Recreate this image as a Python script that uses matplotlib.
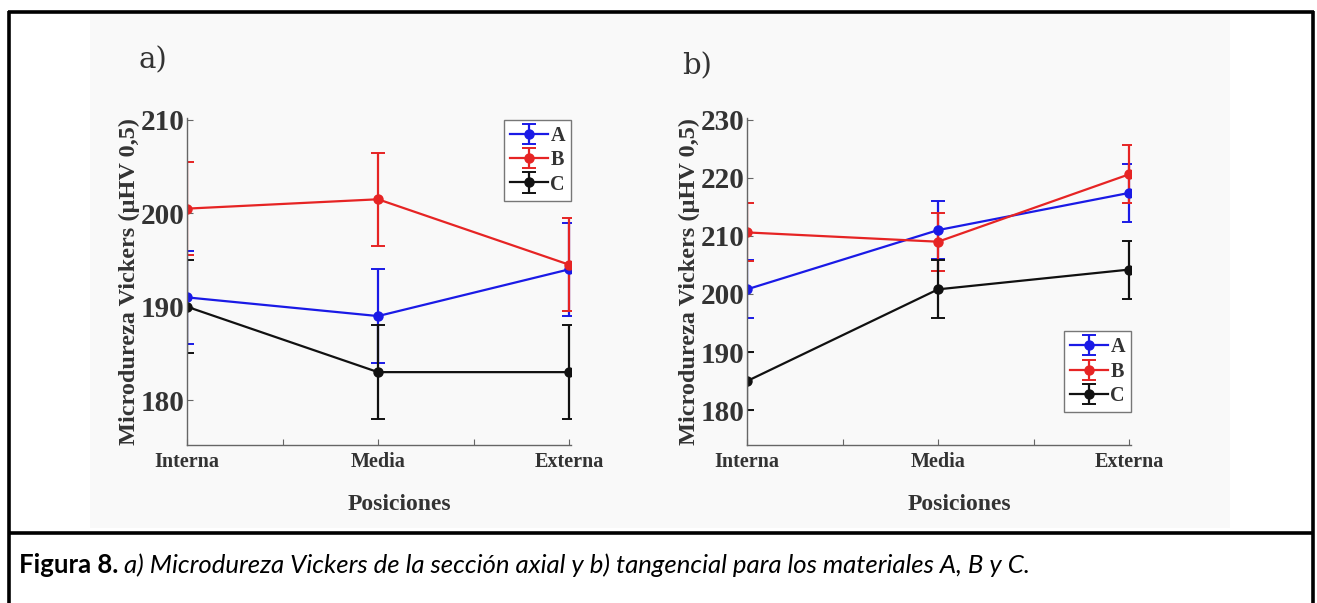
import matplotlib
matplotlib.use("Agg")
import matplotlib.pyplot as plt
from matplotlib.patches import Rectangle
from matplotlib.lines import Line2D

# ---- data ----
positions = ["Interna", "Media", "Externa"]
x_pos = [1, 2, 3]
series_names = ["A", "B", "C"]
colors = ["#1a1ae6", "#e62424", "#111111"]

# a) axial section
axial_A = [191.0, 189.0, 194.0]
axial_B = [200.5, 201.5, 194.5]
axial_C = [190.0, 183.0, 183.0]
axial_err_A = [5, 5, 5]
axial_err_B = [5, 5, 5]
axial_err_C = [5, 5, 5]

# b) tangential section
tang_A = [200.8, 211.0, 217.4]
tang_B = [210.6, 209.0, 220.6]
tang_C = [185.0, 200.8, 204.2]
tang_err_A = [5, 5, 5]
tang_err_B = [5, 5, 5]
tang_err_C = [5, 5, 5]

axial_yticks = [180, 190, 200, 210]
tang_yticks = [180, 190, 200, 210, 220, 230]

ylabel = "Microdureza Vickers (\u03bcHV 0,5)"
xlabel = "Posiciones"
caption_bold = "Figura 8."
caption_rest = " a) Microdureza Vickers de la secci\u00f3n axial y b) tangencial para los materiales A, B y C."

W, H = 1317, 603
fig = plt.figure(figsize=(W / 100, H / 100), dpi=100)
fig.patch.set_facecolor("white")

def px_box(x0, y0, x1, y1):
    return [x0 / W, 1 - y1 / H, (x1 - x0) / W, (y1 - y0) / H]

# faint backdrop of the chart area
fig.patches.append(Rectangle((90 / W, 1 - 528 / H), (1230 - 90) / W, (528 - 14) / H,
                             transform=fig.transFigure, facecolor="#f9f9f9",
                             edgecolor="none", zorder=-5))

serif = "Liberation Serif"

def draw_panel(rect, series, errs, ylim, yticks, legend_loc, legend_anchor):
    ax = fig.add_axes(rect)
    ax.set_facecolor("none")
    for name, vals, err, col in zip(series_names, series, errs, colors):
        ax.errorbar(x_pos, vals, yerr=err, color=col, ecolor=col, lw=1.6,
                    elinewidth=1.6, capsize=5, capthick=1.4, marker="o",
                    ms=6.5, label=name)
    ax.set_xlim(1, 3.01)
    ax.set_ylim(*ylim)
    ax.set_xticks([1, 1.5, 2, 2.5, 3])
    ax.set_xticklabels([positions[0], "", positions[1], "", positions[2]])
    ax.set_yticks(yticks)
    for s in ["top", "right"]:
        ax.spines[s].set_visible(False)
    for s in ["left", "bottom"]:
        ax.spines[s].set_color("#666666")
        ax.spines[s].set_linewidth(1.0)
    ax.tick_params(direction="in", length=4, width=0.8, color="#666666")
    ax.tick_params(axis="x", pad=5)
    ax.tick_params(axis="y", pad=2)
    for lab in ax.get_xticklabels():
        lab.set_fontfamily(serif)
        lab.set_fontweight("bold")
        lab.set_fontsize(14.5)
        lab.set_color("#333333")
    for lab in ax.get_yticklabels():
        lab.set_fontfamily(serif)
        lab.set_fontweight("bold")
        lab.set_fontsize(21)
        lab.set_color("#333333")
    ax.set_ylabel(ylabel, fontfamily=serif, fontweight="bold", fontsize=17.5,
                  color="#333333", labelpad=0)
    ax.set_xlabel(xlabel, fontfamily=serif, fontweight="bold", fontsize=17,
                  color="#333333", va="center")
    ax.xaxis.set_label_coords(212 / 384, -60 / 327)
    leg = ax.legend(loc=legend_loc, bbox_to_anchor=legend_anchor, borderaxespad=0,
                    fancybox=False, framealpha=1, edgecolor="#777777",
                    prop={"family": serif, "weight": "bold", "size": 14.5},
                    handlelength=1.9, handletextpad=0.1, labelspacing=0.22,
                    borderpad=0.3)
    leg.get_frame().set_linewidth(1.0)
    for t in leg.get_texts():
        t.set_color("#333333")
    return ax

ax1 = draw_panel(px_box(187, 118, 571, 445),
                 [axial_A, axial_B, axial_C],
                 [axial_err_A, axial_err_B, axial_err_C],
                 (175.2, 210.2), axial_yticks, "upper right", (1.0, 0.995))
ax2 = draw_panel(px_box(747, 118, 1131, 445),
                 [tang_A, tang_B, tang_C],
                 [tang_err_A, tang_err_B, tang_err_C],
                 (174.0, 230.3), tang_yticks, "lower right", (1.0, 0.10))

# panel letters
fig.text(139 / W, 1 - 60 / H, "a)", fontfamily="DejaVu Serif", fontsize=21,
         color="#333333", va="center", ha="left")
fig.text(682 / W, 1 - 66 / H, "b)", fontfamily="DejaVu Serif", fontsize=21,
         color="#333333", va="center", ha="left")

# frame around figure and caption
frame_kw = dict(transform=fig.transFigure, color="black", lw=2.6, solid_capstyle="butt")
fig.lines.append(Line2D([9 / W, 9 / W], [0, 1 - 11 / H], **frame_kw))
fig.lines.append(Line2D([1313 / W, 1313 / W], [0, 1 - 11 / H], **frame_kw))
fig.lines.append(Line2D([8 / W, 1314 / W], [1 - 12 / H, 1 - 12 / H], **frame_kw))
fig.lines.append(Line2D([8 / W, 1314 / W], [1 - 533 / H, 1 - 533 / H], **frame_kw))

# caption: bold lead-in followed by italic description
t_bold = fig.text(19 / W, 1 - 565 / H, caption_bold, fontfamily="Lato",
                  fontweight="bold", fontsize=18.5, color="black", va="center")
fig.canvas.draw()
bb = t_bold.get_window_extent(renderer=fig.canvas.get_renderer())
fig.text(bb.x1 / W, 1 - 565 / H, caption_rest, fontfamily="Lato",
         fontstyle="italic", fontsize=18.5, color="black", va="center")

fig.savefig("out.png", dpi=100, facecolor="white")
